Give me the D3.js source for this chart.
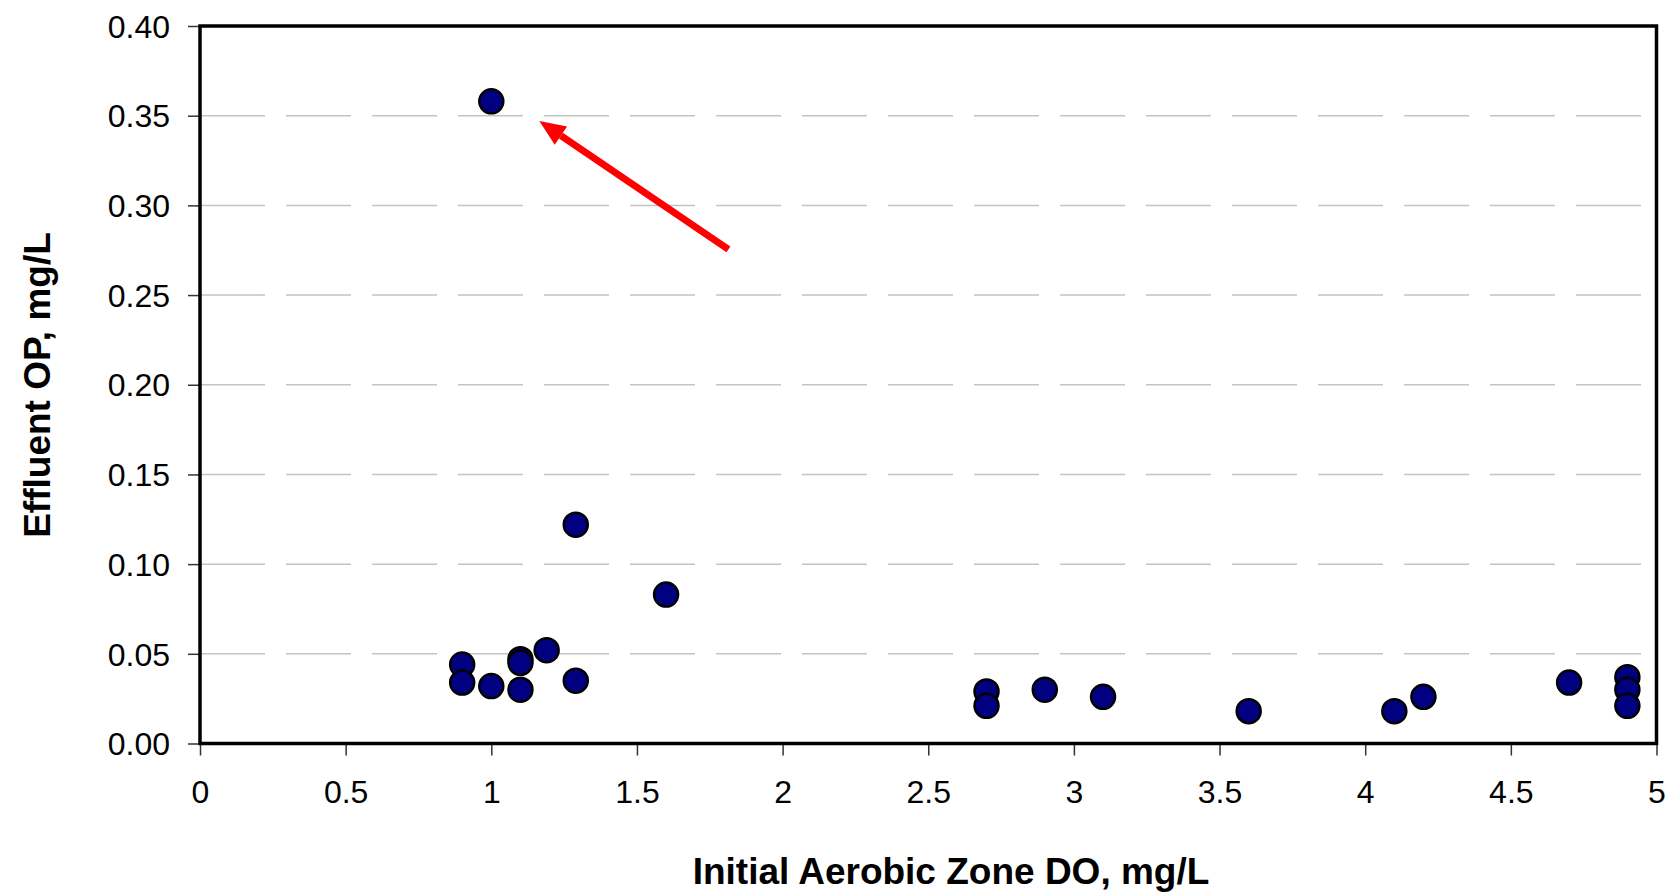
<!DOCTYPE html>
<html>
<head>
<meta charset="utf-8">
<script src="https://cdn.jsdelivr.net/npm/d3@7"></script>
<style>
  html, body { margin: 0; padding: 0; background: #fff; }
  svg { display: block; }
</style>
</head>
<body>
<script>
// ---- Data ----
const doValues = [1.0, 1.29, 1.6, 1.19, 0.9, 0.9, 1.0, 1.1, 1.1, 1.1, 1.29,
                  2.7, 2.7, 2.9, 3.1, 3.6, 4.1, 4.2, 4.7, 4.9, 4.9, 4.9];
const opValues = [0.358, 0.122, 0.083, 0.052, 0.044, 0.034, 0.032, 0.047, 0.045, 0.030, 0.035,
                  0.029, 0.021, 0.030, 0.026, 0.018, 0.018, 0.026, 0.034, 0.037, 0.030, 0.021];
const xTicks = [0, 0.5, 1, 1.5, 2, 2.5, 3, 3.5, 4, 4.5, 5];
const xTickLabels = ["0", "0.5", "1", "1.5", "2", "2.5", "3", "3.5", "4", "4.5", "5"];
const yTicks = [0, 0.05, 0.10, 0.15, 0.20, 0.25, 0.30, 0.35, 0.40];
const yTickLabels = ["0.00", "0.05", "0.10", "0.15", "0.20", "0.25", "0.30", "0.35", "0.40"];
const xTitle = "Initial Aerobic Zone DO, mg/L";
const yTitle = "Effluent OP, mg/L";
// annotation arrow (data units): tail -> tip
const arrowX = [1.814, 1.165];
const arrowY = [0.2755, 0.347];

(function () {
// ---- Layout ----
const W = 1671, H = 894;
const mLeft = 200, mRight = 1656.5, mTop = 26, mBottom = 743.5;

const svg = d3.select("body").append("svg").attr("width", W).attr("height", H);

const x = d3.scaleLinear().domain([0, 5]).range([mLeft, mRight]);
const y = d3.scaleLinear().domain([0, 0.4]).range([mBottom, mTop]);

const font = "'Liberation Sans', Arial, sans-serif";

// gridlines
svg.append("g").selectAll("line")
  .data(yTicks.filter(v => v > 0 && v < 0.4))
  .join("line")
  .attr("x1", mLeft).attr("x2", mRight)
  .attr("y1", d => y(d)).attr("y2", d => y(d))
  .attr("stroke", "#c4c4c4").attr("stroke-width", 1.5)
  .attr("stroke-dasharray", "65,21");

// y axis
const yAxis = svg.append("g").attr("transform", `translate(${mLeft},0)`)
  .call(d3.axisLeft(y).tickValues(yTicks).tickSize(12).tickPadding(18)
        .tickFormat((d, i) => yTickLabels[i]));
yAxis.select(".domain").remove();
yAxis.selectAll(".tick line").attr("stroke", "#333").attr("stroke-width", 1.5);
yAxis.selectAll(".tick text").attr("font-family", font).attr("font-size", 32)
  .attr("fill", "#000").attr("dy", "0.35em");

// x axis
const xAxis = svg.append("g").attr("transform", `translate(0,${mBottom})`)
  .call(d3.axisBottom(x).tickValues(xTicks).tickSize(12).tickPadding(25)
        .tickFormat((d, i) => xTickLabels[i]));
xAxis.select(".domain").remove();
xAxis.selectAll(".tick line").attr("stroke", "#333").attr("stroke-width", 1.5);
xAxis.selectAll(".tick text").attr("font-family", font).attr("font-size", 32)
  .attr("fill", "#000");

// plot border
svg.append("rect")
  .attr("x", mLeft).attr("y", mTop)
  .attr("width", mRight - mLeft).attr("height", mBottom - mTop)
  .attr("fill", "none").attr("stroke", "#000").attr("stroke-width", 3.5);

// points
svg.append("g").selectAll("circle")
  .data(doValues.map((d, i) => [d, opValues[i]]))
  .join("circle")
  .attr("cx", d => x(d[0])).attr("cy", d => y(d[1]))
  .attr("r", 12)
  .attr("fill", "#000080").attr("stroke", "#000").attr("stroke-width", 2.5);

// arrow annotation
const x0 = x(arrowX[0]), y0 = y(arrowY[0]), x1 = x(arrowX[1]), y1 = y(arrowY[1]);
const ang = Math.atan2(y1 - y0, x1 - x0);
const headLen = 26, headW = 11;
const bx = x1 - headLen * Math.cos(ang), by = y1 - headLen * Math.sin(ang);
svg.append("line")
  .attr("x1", x0).attr("y1", y0).attr("x2", bx).attr("y2", by)
  .attr("stroke", "#ff0000").attr("stroke-width", 7);
const px = -Math.sin(ang), py = Math.cos(ang);
svg.append("path")
  .attr("d", `M${x1},${y1} L${bx + px * headW},${by + py * headW} L${bx - px * headW},${by - py * headW} Z`)
  .attr("fill", "#ff0000");

// titles
svg.append("text")
  .attr("x", 951).attr("y", 884)
  .attr("text-anchor", "middle")
  .attr("font-family", font).attr("font-weight", "bold").attr("font-size", 37)
  .attr("fill", "#000")
  .text(xTitle);

svg.append("text")
  .attr("transform", `translate(50,385) rotate(-90)`)
  .attr("text-anchor", "middle")
  .attr("font-family", font).attr("font-weight", "bold").attr("font-size", 37)
  .attr("fill", "#000")
  .text(yTitle);
})();
</script>
</body>
</html>
